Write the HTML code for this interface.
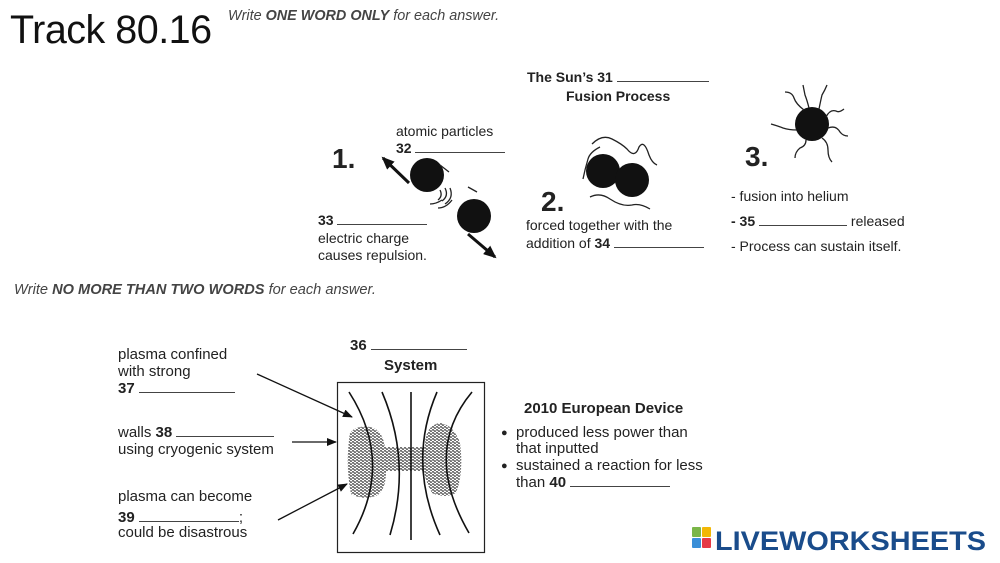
<!DOCTYPE html>
<html><head><meta charset="utf-8"><style>
body{margin:0;width:1000px;height:563px;background:#fff;position:relative;overflow:hidden;font-family:"Liberation Sans",Arial,sans-serif;color:#222}
.t{position:absolute;white-space:nowrap;font-size:14px;line-height:1}
.s{font-size:15px}
b{font-weight:bold}
.u{display:inline-block;border-bottom:1px solid #444;height:1px;vertical-align:baseline}
</style></head><body>
<div class="t" style="left:10px;top:11px;font-size:39.5px;color:#111;letter-spacing:-0.5px">Track 80.16</div>
<div class="t" style="left:228px;top:9px;font-size:14.4px;font-style:italic;color:#444">Write <b>ONE WORD ONLY</b> for each answer.</div>

<div class="t" style="left:527px;top:70px;font-weight:bold">The Sun’s 31 <span class="u" style="width:92px"></span></div>
<div class="t" style="left:566px;top:89px;font-weight:bold">Fusion Process</div>
<div class="t" style="left:396px;top:124px">atomic particles</div>
<div class="t" style="left:396px;top:141px;font-weight:bold">32 <span class="u" style="width:90px"></span></div>
<div class="t" style="left:332px;top:145px;font-size:28px;font-weight:bold">1.</div>
<div class="t" style="left:318px;top:213px;font-weight:bold">33 <span class="u" style="width:90px"></span></div>
<div class="t" style="left:318px;top:231px">electric charge</div>
<div class="t" style="left:318px;top:248px">causes repulsion.</div>
<div class="t" style="left:541px;top:188px;font-size:28px;font-weight:bold">2.</div>
<div class="t" style="left:526px;top:218px">forced together with the</div>
<div class="t" style="left:526px;top:236px">addition of <b>34</b> <span class="u" style="width:90px"></span></div>
<div class="t" style="left:745px;top:143px;font-size:28px;font-weight:bold">3.</div>
<div class="t" style="left:731px;top:189px">- fusion into helium</div>
<div class="t" style="left:731px;top:214px"><b>- 35</b> <span class="u" style="width:88px"></span> released</div>
<div class="t" style="left:731px;top:239px">- Process can sustain itself.</div>

<div class="t" style="left:14px;top:283px;font-size:14.6px;font-style:italic;color:#444">Write <b>NO MORE THAN TWO WORDS</b> for each answer.</div>

<div class="t s" style="left:350px;top:338px;font-weight:bold">36 <span class="u" style="width:96px"></span></div>
<div class="t s" style="left:384px;top:358px;font-weight:bold">System</div>
<div class="t s" style="left:118px;top:347px">plasma confined</div>
<div class="t s" style="left:118px;top:364px">with strong</div>
<div class="t s" style="left:118px;top:381px;font-weight:bold">37 <span class="u" style="width:96px"></span></div>
<div class="t s" style="left:118px;top:425px">walls <b>38</b> <span class="u" style="width:98px"></span></div>
<div class="t s" style="left:118px;top:442px">using cryogenic system</div>
<div class="t s" style="left:118px;top:489px">plasma can become</div>
<div class="t s" style="left:118px;top:510px"><b>39</b> <span class="u" style="width:100px"></span>;</div>
<div class="t s" style="left:118px;top:525px">could be disastrous</div>
<div class="t s" style="left:524px;top:401px;font-weight:bold">2010 European Device</div>
<div class="t s" style="left:501px;top:425px"><span style="font-size:11px;vertical-align:1px">●</span>&nbsp; produced less power than</div>
<div class="t s" style="left:516px;top:441px">that inputted</div>
<div class="t s" style="left:501px;top:458px"><span style="font-size:11px;vertical-align:1px">●</span>&nbsp; sustained a reaction for less</div>
<div class="t s" style="left:516px;top:475px">than <b>40</b> <span class="u" style="width:100px"></span></div>

<svg width="1000" height="563" style="position:absolute;left:0;top:0" xmlns="http://www.w3.org/2000/svg">
<defs>
<marker id="a" markerUnits="userSpaceOnUse" markerWidth="10" markerHeight="8" refX="9" refY="4" orient="auto"><path d="M0,0 L10,4 L0,8 Z" fill="#111"/></marker>
<marker id="b" markerUnits="userSpaceOnUse" markerWidth="13" markerHeight="11" refX="11" refY="5.5" orient="auto"><path d="M0,0 L13,5.5 L0,11 Z" fill="#111"/></marker>
<pattern id="p" width="4" height="3" patternUnits="userSpaceOnUse"><path d="M0,1.5 q1,-1.8 2,0 t2,0" stroke="#333" stroke-width="1" fill="none"/></pattern>
</defs>
<g fill="#111">
<circle cx="427" cy="175" r="17"/><circle cx="474" cy="216" r="17"/>
<circle cx="603" cy="171" r="17"/><circle cx="632" cy="180" r="17"/>
<circle cx="812" cy="124" r="17"/>
</g>
<g stroke="#111" stroke-width="3" fill="none">
<line x1="409" y1="183" x2="383" y2="158" marker-end="url(#b)"/>
<line x1="468" y1="234" x2="495" y2="257" marker-end="url(#b)"/>
</g>
<g stroke="#222" stroke-width="1.3" fill="none">
<path d="M440,165 l9,7 M477,192 l-9,-5"/>
<path d="M440,190 q3,6 -2,10 M445,188 q4,8 -3,13 M450,188 q4,10 -5,16 M442,200 q-6,4 -12,4 M452,200 q-6,8 -14,8"/>
<path d="M592,144 q10,-10 20,-5 q10,5 15,10 q8,10 12,-2 q5,-8 10,8 q3,8 8,10"/>
<path d="M600,147 q-10,5 -12,12 q-3,10 -5,20"/>
<path d="M590,197 q10,-5 20,2 q12,8 22,6 q8,-2 18,4"/>
<path d="M804,110 q-8,-6 -10,-12 q-2,-6 -9,-6 M809,108 q-2,-8 -4,-13 q-1,-5 -2,-10 M819,109 q2,-10 3,-14 q3,-5 5,-10 M826,117 q4,-8 10,-6 q3,2 8,-2 M828,128 q8,-3 12,4 q3,4 8,4 M822,138 q6,4 6,12 q0,8 4,12 M806,140 q0,6 -6,8 q-5,4 -5,10 M797,130 q-8,0 -14,-2 q-5,-2 -12,-4"/>
</g>
<rect x="337.5" y="382.5" width="147" height="170" stroke="#222" fill="none" stroke-width="1.2"/>
<path d="M350,433 q6,-8 20,-6 q12,2 15,20 l40,0 q0,-22 15,-24 q14,2 20,20 q4,30 -4,50 q-10,6 -24,0 q-6,-10 -8,-22 l-38,0 q0,20 -10,25 q-15,4 -25,-2 q-6,-30 -1,-61 Z" fill="url(#p)"/>
<g stroke="#111" stroke-width="1.6" fill="none">
<path d="M349,392 q45,70 4,142"/>
<path d="M382,392 q30,70 8,143"/>
<line x1="411" y1="392" x2="411" y2="540"/>
<path d="M437,392 q-30,70 3,143"/>
<path d="M472,392 q-50,60 -3,141"/>
</g>
<g stroke="#111" stroke-width="1.3" fill="none">
<line x1="257" y1="374" x2="352" y2="417" marker-end="url(#a)"/>
<line x1="292" y1="442" x2="336" y2="442" marker-end="url(#a)"/>
<line x1="278" y1="520" x2="347" y2="484" marker-end="url(#a)"/>
</g>
<rect x="692" y="527" width="9" height="10" fill="#7ab648" rx="1"/>
<rect x="702" y="527" width="9" height="10" fill="#f2b705" rx="1"/>
<rect x="692" y="538" width="9" height="10" fill="#3a8fd8" rx="1"/>
<rect x="702" y="538" width="9" height="10" fill="#e63946" rx="1"/>
<text x="715" y="550" font-family="Liberation Sans,sans-serif" font-weight="bold" font-size="27" fill="#1a4c8b" textLength="271" lengthAdjust="spacingAndGlyphs">LIVEWORKSHEETS</text>
</svg>
</body></html>
